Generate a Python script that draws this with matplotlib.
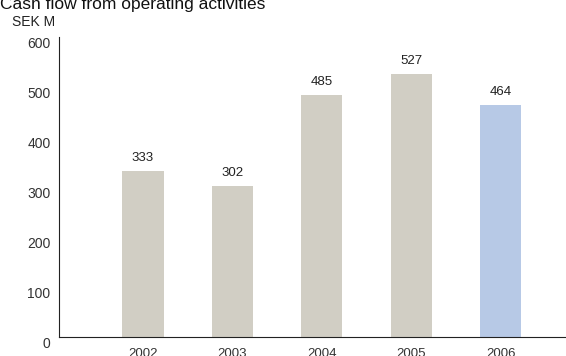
import matplotlib
matplotlib.use('Agg')
import matplotlib.pyplot as plt
import matplotlib.transforms as mtransforms
import numpy as np

# Data
years = ['2002', '2003', '2004', '2005', '2006']
cash_flow = [333, 302, 485, 527, 464]
bar_colors = ['#d1cec4', '#d1cec4', '#d1cec4', '#d1cec4', '#b7c9e6']
y_ticks = [0, 100, 200, 300, 400, 500, 600]

plt.rcParams['font.family'] = ['Liberation Sans', 'DejaVu Sans']

fig = plt.figure(figsize=(5.66, 3.56), dpi=100)
ax = fig.add_axes([0.104, 0.053, 0.896, 0.843])

x = np.arange(len(years))
bars = ax.bar(x, cash_flow, width=0.46, color=bar_colors)

# Value labels above each bar
for xi, val in zip(x, cash_flow):
    ax.annotate(str(val), (xi, val), xytext=(0, 5), textcoords='offset points',
                ha='center', va='bottom', fontsize=9.5, color='#222222')

ax.set_xlim(-0.94, 4.73)
ax.set_ylim(0, 600)
ax.set_yticks(y_ticks)
ax.set_xticks(x)
ax.set_xticklabels(years)
ax.tick_params(axis='y', length=0, pad=6, labelsize=10, labelcolor='#333333')
ax.tick_params(axis='x', length=0, pad=7.5, labelsize=9.5, labelcolor='#333333')

# y labels sit a little below their gridline value in the reference
offset = mtransforms.ScaledTranslation(0, -5 / 100, fig.dpi_scale_trans)
for lbl in ax.get_yticklabels():
    lbl.set_transform(lbl.get_transform() + offset)

for side in ['top', 'right']:
    ax.spines[side].set_visible(False)
for side in ['left', 'bottom']:
    ax.spines[side].set_color('#222222')
    ax.spines[side].set_linewidth(0.8)

fig.text(0.0, 0.975, 'Cash flow from operating activities', fontsize=12.5,
         ha='left', va='baseline', color='#111111')
fig.text(0.021, 0.937, 'SEK M', fontsize=10, ha='left', va='center', color='#222222')

fig.savefig('out.png', dpi=100)
